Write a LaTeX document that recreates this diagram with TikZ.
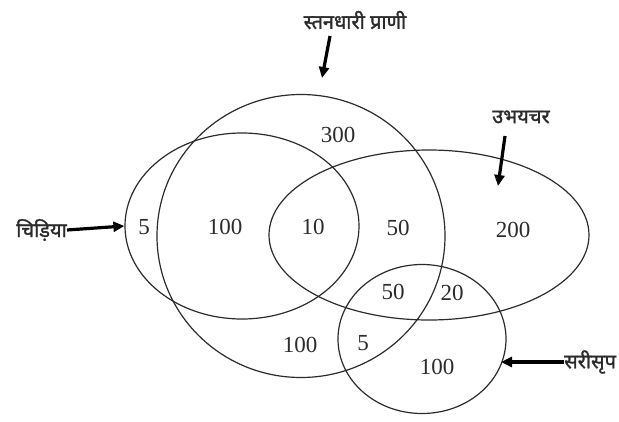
\documentclass[tikz,border=0pt]{standalone}
\usepackage{fontspec}
\usepackage{tikz}
\usetikzlibrary{arrows.meta,shapes.geometric}
\setmainfont{Liberation Serif}
\newfontfamily\hindi[Script=Devanagari,FakeBold=1.5]{Noto Sans}
\definecolor{ink}{HTML}{2B2B2B}
\tikzset{
  set/.style={ellipse, draw=ink, line width=1.2pt, inner sep=0pt},
  count/.style={font=\fontsize{23}{23}\selectfont, text=ink, inner sep=0pt},
  tag/.style={font=\hindi\fontsize{20}{20}\selectfont, text=ink,
    inner sep=0pt},
  pointer/.style={-{Triangle[length=11pt,width=10pt]}, draw=black,
    line width=3.2pt}
}
\begin{document}
\begin{tikzpicture}[x=1pt,y=-1pt]
  \useasboundingbox (0,0) rectangle (619,421);

  % The four sets.
  \node[set, minimum width=234pt, minimum height=186pt] (bird) at (242,226) {};
  \node[set, minimum width=288pt, minimum height=283pt] (mammal) at (301,236) {};
  \node[set, minimum width=320pt, minimum height=170pt] (amphib) at (429,235) {};
  \node[set, minimum width=168pt, minimum height=149pt] (reptile) at (422,339) {};

  % Region counts.
  \node[count] (n300) at (338,135) {300};
  \node[count] (nb5) at (144,227) {5};
  \node[count] (nb100) at (225,227) {100};
  \node[count] (n10) at (313,227) {10};
  \node[count] (nm50) at (398,228) {50};
  \node[count] (n200) at (513,230) {200};
  \node[count] (nr50) at (393,292) {50};
  \node[count] (n20) at (452,293) {20};
  \node[count] (nm100) at (300,345) {100};
  \node[count] (nr5) at (363,343) {5};
  \node[count] (nr100) at (437,367) {100};

  % Labels with pointers.
  \node[tag] (mammal-tag) at (355,20) {स्तनधारी प्राणी};
  \node[tag, anchor=east] (bird-tag) at (67,230) {चिड़िया};
  \node[tag] (amphib-tag) at (521,117) {उभयचर};
  \node[tag, anchor=west] (reptile-tag) at (564,362) {सरीसृप};
  \coordinate (mammal-tail) at (330,36);
  \coordinate (mammal-tip) at (322,78);
  \coordinate (amphib-tail) at (505,136);
  \coordinate (amphib-tip) at (498,186);
  \coordinate (reptile-tip) at (501,362);
  \draw[pointer] (mammal-tail) -- (mammal-tip);
  \draw[pointer] (bird-tag.east) -- (bird.west);
  \draw[pointer] (amphib-tail) -- (amphib-tip);
  \draw[pointer] (reptile-tag.west) -- (reptile-tip);
\end{tikzpicture}
\end{document}
